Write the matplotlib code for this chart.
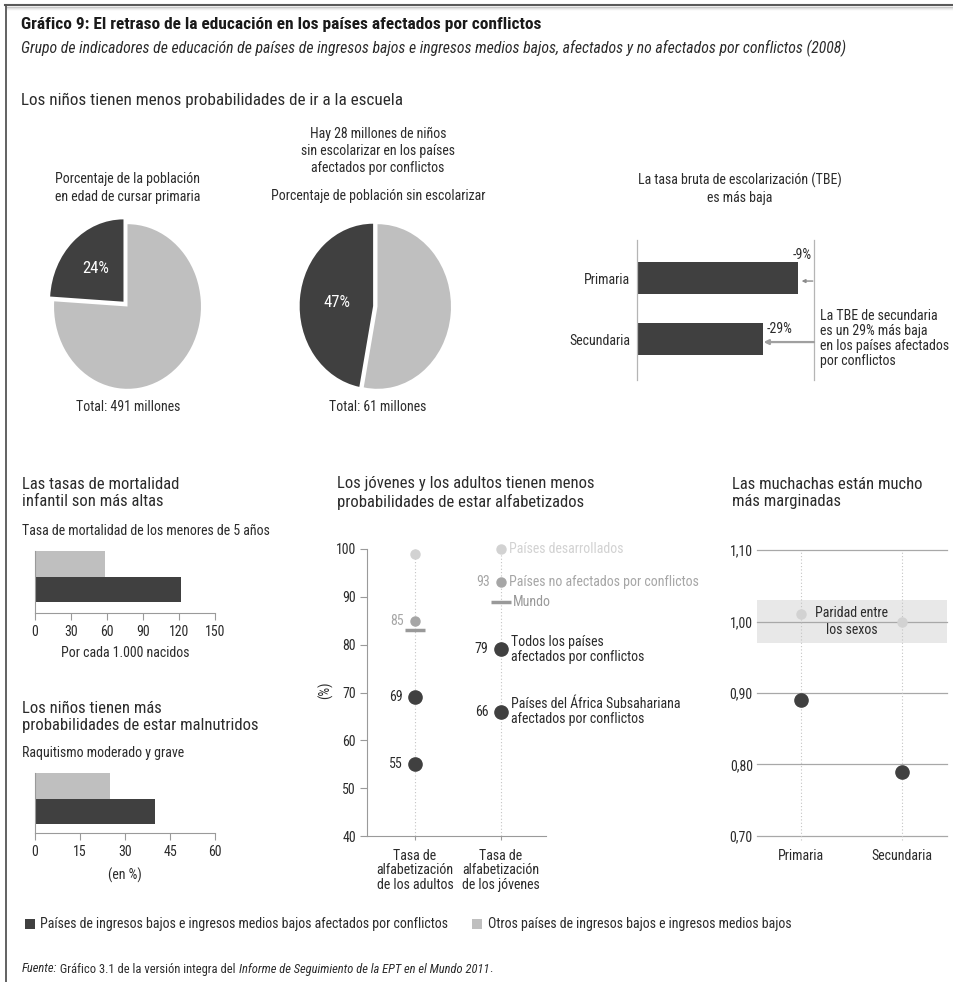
import numpy as np
import matplotlib.pyplot as plt
from matplotlib import font_manager
from matplotlib.patches import Rectangle
from matplotlib.lines import Line2D

W, H = 954, 982

# Pie charts: share of conflict-affected countries (%)
pie_primary_age = [24, 76]       # population of primary school age
pie_out_of_school = [47, 53]     # out-of-school population
pie_totals = ["Total: 491 millones", "Total: 61 millones"]

# Gross enrolment ratio, conflict-affected relative to others (others = 100)
tbe_levels = ["Primaria", "Secundaria"]
tbe_index = [91, 71]

# Under-5 mortality (per 1,000 births) and stunting (%)
mort_other, mort_conflict = 58, 122
stunt_other, stunt_conflict = 25, 40

# Literacy rates (%)
lit_cols = ["Tasa de\nalfabetización\nde los adultos", "Tasa de\nalfabetización\nde los jóvenes"]
lit_developed = [99, 100]
lit_not_affected = [85, 93]
lit_world = [83, 89]
lit_conflict = [69, 79]
lit_ssa_conflict = [55, 66]

# Gender parity index
gpi_levels = ["Primaria", "Secundaria"]
gpi_other = [1.01, 1.00]
gpi_conflict = [0.89, 0.79]

DARK = "#404040"
LIGHT = "#bfbfbf"
MID = "#a6a6a6"
PALE = "#d2d2d2"
AXC = "#9a9a9a"
TXT = "#2b2b2b"

avail = {f.name for f in font_manager.fontManager.ttflist}
NARROW = next((f for f in ["Liberation Sans Narrow", "Roboto Condensed", "Liberation Sans"]
               if f in avail), "DejaVu Sans")
plt.rcParams["font.family"] = [NARROW, "DejaVu Sans"]
plt.rcParams["text.color"] = TXT
plt.rcParams["xtick.color"] = AXC
plt.rcParams["ytick.color"] = AXC
plt.rcParams["xtick.labelcolor"] = TXT
plt.rcParams["ytick.labelcolor"] = TXT

BODY = 10
HEAD = 12

fig = plt.figure(figsize=(W / 100, H / 100), dpi=100)


def px_axes(x0, y0, x1, y1):
    return fig.add_axes([x0 / W, 1 - y1 / H, (x1 - x0) / W, (y1 - y0) / H])


def ftext(x, y, s, **kw):
    kw.setdefault("va", "center")
    kw.setdefault("fontsize", BODY)
    return fig.text(x / W, 1 - y / H, s, **kw)


# frame
fig.add_artist(Line2D([5 / W, 1], [1 - 5 / H] * 2, color="#5a5a5a", lw=1.5))
for k, c in enumerate(["#c4c4c4", "#dedede", "#efefef"]):
    fig.add_artist(Line2D([7 / W, 1], [1 - (7 + k) / H] * 2, color=c, lw=1))
fig.add_artist(Line2D([6 / W] * 2, [0, 1 - 5 / H], color="#555555", lw=1.3))

# titles
ftext(21, 24, "Gráfico 9: El retraso de la educación en los países afectados por conflictos",
      fontsize=12.5, fontweight="bold", color="#1a1a1a")
ftext(21, 48, "Grupo de indicadores de educación de países de ingresos bajos e ingresos medios bajos, "
      "afectados y no afectados por conflictos (2008)", fontsize=11.3, style="italic")
ftext(21, 100, "Los niños tienen menos probabilidades de ir a la escuela", fontsize=12.3)


# pies
def draw_pie(cx, cy, vals, explode):
    ax = px_axes(cx - 95.5, cy - 107, cx + 95.5, cy + 107)
    ax.pie(vals, colors=[DARK, LIGHT], startangle=90, counterclock=True,
           explode=[explode, 0], wedgeprops=dict(linewidth=0))
    ax.set_aspect("auto")
    ax.set_xlim(-1.3, 1.3)
    ax.set_ylim(-1.3, 1.3)
    ang = np.deg2rad(90 + vals[0] * 3.6 / 2)
    r = 0.64 if vals[0] < 40 else 0.55
    ax.text(r * np.cos(ang), r * np.sin(ang), f"{vals[0]}%", color="white",
            fontsize=12, ha="center", va="center")
    return ax


draw_pie(127.5, 306.5, pie_primary_age, 0.08)
draw_pie(377.5, 306.5, pie_out_of_school, 0.06)
ftext(128, 188, "Porcentaje de la población\nen edad de cursar primaria", ha="center", linespacing=1.3)
ftext(378, 151, "Hay 28 millones de niños\nsin escolarizar en los países\nafectados por conflictos",
      ha="center", linespacing=1.3)
ftext(378, 196, "Porcentaje de población sin escolarizar", ha="center")
ftext(128, 407, pie_totals[0], ha="center")
ftext(378, 407, pie_totals[1], ha="center")

# gross enrolment ratio
ax = px_axes(637, 240, 814, 380)
ax.barh([0, 1], tbe_index, height=0.525, color=DARK)
ax.set_xlim(0, 100)
ax.set_ylim(1.672, -0.623)
for s in ["top", "bottom"]:
    ax.spines[s].set_visible(False)
for s in ["left", "right"]:
    ax.spines[s].set_color("#b5b5b5")
    ax.spines[s].set_linewidth(0.9)
ax.set_xticks([])
ax.set_yticks([0, 1], tbe_levels, fontsize=BODY)
ax.tick_params(axis="y", length=0, pad=5)
ax.text(99, -0.38, f"-{100 - tbe_index[0]}%", ha="right", va="center", fontsize=BODY)
ax.text(tbe_index[1] + 2, 0.84, f"-{100 - tbe_index[1]}%", ha="left", va="center", fontsize=BODY)
ax.annotate("", xy=(93, 0.05), xytext=(99.3, 0.05),
            arrowprops=dict(arrowstyle="-|>", color="#8c8c8c", lw=1, mutation_scale=5,
                            shrinkA=0, shrinkB=0))
ax.annotate("", xy=(tbe_index[1] + 0.5, 1.05), xytext=(100, 1.05),
            arrowprops=dict(arrowstyle="-|>", color="#a0a0a0", lw=1.6, mutation_scale=7,
                            shrinkA=0, shrinkB=0))
ftext(740, 189, "La tasa bruta de escolarización (TBE)\nes más baja", ha="center", linespacing=1.3)
ftext(820, 338.5, f"La TBE de secundaria\nes un {100 - tbe_index[1]}% más baja\n"
      "en los países afectados\npor conflictos", ha="left", linespacing=1.1)


# small horizontal bar charts
def draw_pair(y0, y1, other, conflict, xmax, step):
    ax = px_axes(35, y0, 215, y1)
    ax.barh([1], [other], height=1, color=LIGHT)
    ax.barh([0], [conflict], height=1, color=DARK)
    ax.set_xlim(0, xmax)
    ax.set_ylim(-(y1 - y0 - 38.5) / 25.5, 1.5)
    for s in ["top", "right"]:
        ax.spines[s].set_visible(False)
    for s in ["left", "bottom"]:
        ax.spines[s].set_color(AXC)
        ax.spines[s].set_linewidth(0.8)
    ax.set_yticks([])
    ax.set_xticks(np.arange(0, xmax + 1, step))
    ax.tick_params(axis="x", length=5, width=0.8, pad=4, labelsize=BODY)
    return ax


ftext(22, 493, "Las tasas de mortalidad\ninfantil son más altas", fontsize=HEAD, linespacing=1.2)
ftext(22, 531, "Tasa de mortalidad de los menores de 5 años")
draw_pair(551, 613, mort_other, mort_conflict, 150, 30)
ftext(125, 653, "Por cada 1.000 nacidos", ha="center")

ftext(22, 717, "Los niños tienen más\nprobabilidades de estar malnutridos", fontsize=HEAD, linespacing=1.2)
ftext(22, 753, "Raquitismo moderado y grave")
draw_pair(773, 833, stunt_other, stunt_conflict, 60, 15)
ftext(125, 875, "(en %)", ha="center")

# literacy
ftext(337, 493, "Los jóvenes y los adultos tienen menos\nprobabilidades de estar alfabetizados",
      fontsize=HEAD, linespacing=1.2)
ax = px_axes(367, 549, 546, 836)
ax.set_xlim(-0.558, 1.523)
ax.set_ylim(40, 100)
ax.vlines([0, 1], 40, 100, colors="#c4c4c4", linestyles=(0, (1, 2)), lw=0.8, zorder=0)
xs = [0, 1]
ax.plot(xs, lit_developed, "o", color=PALE, ms=6.5, zorder=3, clip_on=False)
ax.plot(xs, lit_not_affected, "o", color=MID, ms=6.5, zorder=3, clip_on=False)
ax.plot(xs, lit_world, "_", color="#999999", ms=13.7, mew=2.5, zorder=3, clip_on=False)
ax.plot(xs, lit_conflict, "o", color=DARK, ms=9.5, zorder=3, clip_on=False)
ax.plot(xs, lit_ssa_conflict, "o", color=DARK, ms=9.5, zorder=3, clip_on=False)
for x in xs:
    ax.annotate(f"{lit_not_affected[x]}", (x, lit_not_affected[x]), xytext=(-8, 0),
                textcoords="offset points", ha="right", va="center", color=MID, fontsize=BODY)
    for v in (lit_conflict[x], lit_ssa_conflict[x]):
        ax.annotate(f"{v}", (x, v), xytext=(-9, 0), textcoords="offset points",
                    ha="right", va="center", color=TXT, fontsize=BODY)
right_labels = [
    (lit_developed[1], "Países desarrollados", PALE, 6),
    (lit_not_affected[1], "Países no afectados por conflictos", MID, 6),
    (lit_world[1], "Mundo", "#999999", 8.5),
    (lit_conflict[1], "Todos los países\nafectados por conflictos", TXT, 7.5),
    (lit_ssa_conflict[1], "Países del África Subsahariana\nafectados por conflictos", TXT, 7.5),
]
for v, s, c, off in right_labels:
    ax.annotate(s, (1, v), xytext=(off, 0), textcoords="offset points", ha="left",
                va="center", color=c, fontsize=BODY, linespacing=1.05)
for s in ["top", "right"]:
    ax.spines[s].set_visible(False)
for s in ["left", "bottom"]:
    ax.spines[s].set_color(AXC)
    ax.spines[s].set_linewidth(0.8)
ax.set_yticks(np.arange(40, 101, 10))
ax.set_xticks(xs, lit_cols)
ax.tick_params(axis="y", length=5, width=0.8, pad=3, labelsize=BODY)
ax.tick_params(axis="x", length=3, width=0.8, pad=6, labelsize=BODY)
for t in ax.get_xticklabels():
    t.set_linespacing(1.05)
ftext(325, 690, "(%)", rotation=90, ha="center")

# gender parity
ftext(732, 493, "Las muchachas están mucho\nmás marginadas", fontsize=HEAD, linespacing=1.2)
ax = px_axes(757, 550, 947, 836)
ax.set_xlim(-0.436, 1.446)
ax.set_ylim(0.70, 1.10)
ax.axhspan(0.97, 1.03, color="#e8e8e8", lw=0, zorder=0)
gticks = [0.70, 0.80, 0.90, 1.00, 1.10]
for v in gticks:
    ax.axhline(v, color="#a8a8a8", lw=0.9, zorder=1, clip_on=False)
ax.vlines([0, 1], 0.695, 1.10, colors="#c4c4c4", linestyles=(0, (1, 2)), lw=0.8,
          zorder=1, clip_on=False)
ax.plot([0, 1], gpi_other, "o", color=PALE, ms=6.5, zorder=3)
ax.plot([0, 1], gpi_conflict, "o", color=DARK, ms=9.5, zorder=3)
ax.text(0.505, 1.0, "Paridad entre\nlos sexos", ha="center", va="center", fontsize=BODY,
        linespacing=1.2, zorder=4)
for s in ax.spines.values():
    s.set_visible(False)
ax.set_yticks(gticks, [f"{v:.2f}".replace(".", ",") for v in gticks])
ax.set_xticks([0, 1], gpi_levels)
ax.tick_params(axis="y", length=0, pad=3, labelsize=BODY)
ax.tick_params(axis="x", length=0, pad=9, labelsize=BODY)

# legend
fig.add_artist(Rectangle((25 / W, 1 - 929 / H), 10 / W, 10 / H, transform=fig.transFigure,
                         color=DARK, lw=0))
ftext(40, 924, "Países de ingresos bajos e ingresos medios bajos afectados por conflictos")
fig.add_artist(Rectangle((472 / W, 1 - 929 / H), 10 / W, 10 / H, transform=fig.transFigure,
                         color=LIGHT, lw=0))
ftext(488, 924, "Otros países de ingresos bajos e ingresos medios bajos")

# source line with mixed styles
renderer = fig.canvas.get_renderer()
x = 22
for s, st in [("Fuente:", "italic"), (" Gráfico 3.1 de la versión integra del ", "normal"),
              ("Informe de Seguimiento de la EPT en el Mundo 2011", "italic"), (".", "normal")]:
    t = ftext(x, 969, s, fontsize=9, style=st)
    x += t.get_window_extent(renderer).width

fig.savefig("out.png", dpi=100)
